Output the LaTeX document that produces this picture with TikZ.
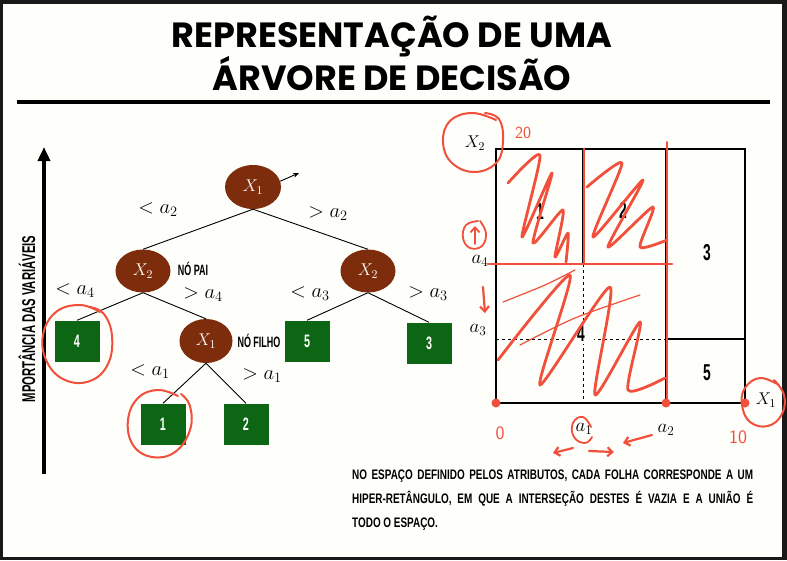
\RequirePackage{fix-cm}
\documentclass[tikz,border=0pt]{standalone}
\usepackage{fontspec}
\usetikzlibrary{shapes.geometric,arrows.meta}
\newfontfamily\titlefont{Poppins}
\newfontfamily\condfont[FakeStretch=0.6]{Liberation Sans}
\newfontfamily\condvert[FakeStretch=0.61]{Liberation Sans}
\newfontfamily\condnote[FakeStretch=0.72]{Liberation Sans}
\definecolor{bg}{RGB}{254,254,250}
\definecolor{framedark}{RGB}{25,25,25}
\definecolor{nodebrown}{RGB}{125,45,12}
\definecolor{leafgreen}{RGB}{12,102,20}
\definecolor{inkred}{RGB}{240,80,60}
\begin{document}
\begin{tikzpicture}[x=1pt,y=-1pt,
  dnode/.style={ellipse, fill=nodebrown, minimum width=56pt, minimum height=44pt, inner sep=0pt, text=white, font=\fontsize{17}{17}\selectfont},
  leaf/.style={rectangle, fill=leafgreen, minimum width=45pt, minimum height=41pt, inner sep=0pt, text=white, font=\condfont\bfseries\fontsize{18}{18}\selectfont},
  treeedge/.style={draw=black, line width=0.9pt},
  cond/.style={font=\fontsize{20.5}{20.5}\selectfont, inner sep=1pt},
  tag/.style={font=\condfont\bfseries\fontsize{15}{15}\selectfont, inner sep=1pt},
  region/.style={font=\condfont\bfseries\fontsize{23}{23}\selectfont, inner sep=1pt},
  axis/.style={font=\fontsize{19}{19}\selectfont, inner sep=1pt},
  axisX/.style={font=\fontsize{17}{17}\selectfont, inner sep=1pt},
  grid/.style={draw=black, line width=2.4pt},
  dgrid/.style={draw=black, line width=0.8pt, dash pattern=on 3pt off 3pt},
  ink/.style={draw=inkred, line width=2.8pt, line cap=round, line join=round},
  thinink/.style={draw=inkred, line width=1.2pt, line cap=round, line join=round},
  inktext/.style={text=inkred, font=\sffamily\fontsize{19}{19}\selectfont, inner sep=0pt},
  inkarrow/.style={draw=inkred, line width=2.2pt, line cap=round, -{Straight Barb[length=5pt,width=9pt]}},
]
\useasboundingbox (0,0) rectangle (787,560);
% frame and background
\fill[framedark] (0,0) rectangle (787,560);
\fill[bg] (3,4) rectangle (782,557);

% title
\node[font=\titlefont\bfseries\fontsize{35}{35}\selectfont, inner sep=0pt] (t1) at (392,37) {REPRESENTAÇÃO DE UMA};
\node[font=\titlefont\bfseries\fontsize{35}{35}\selectfont, inner sep=0pt] (t2) at (392,74) {ÁRVORE DE DECISÃO};
\coordinate (rl) at (17,102);
\coordinate (rr) at (770,102);
\draw[line width=4pt] (rl) -- (rr);

% importance axis
\coordinate (ab) at (44,474);
\coordinate (at) at (44,147);
\draw[line width=3.5pt, -{Triangle[width=12pt,length=14pt]}] (ab) -- (at);
\node[rotate=90, font=\condvert\bfseries\fontsize{18.5}{18.5}\selectfont, inner sep=0pt] (imp) at (27,319) {MPORTÂNCIA DAS VARIÁVEIS};

% tree nodes
\node[dnode] (root) at (253,187) {$X_1$};
\node[dnode, minimum width=55pt, minimum height=43pt] (x2l) at (143,271) {$X_2$};
\node[dnode, minimum width=55pt, minimum height=43pt] (x2r) at (368,271) {$X_2$};
\node[dnode, minimum width=53pt, minimum height=44pt] (x1c) at (206,341) {$X_1$};
\node[leaf] (l4) at (77,341) {4};
\node[leaf] (l5) at (307,341) {5};
\node[leaf] (l3) at (429,343) {3};
\node[leaf] (l1) at (163,424) {1};
\node[leaf] (l2) at (246,424) {2};

% tree edges
\draw[treeedge] (root.south) -- (x2l.north);
\draw[treeedge] (root.south) -- (x2r.north);
\draw[treeedge] (x2l.south) -- (l4.north);
\draw[treeedge] (x2l.south) -- (x1c.north);
\draw[treeedge] (x2r.south) -- (l5.north);
\draw[treeedge] (x2r.south) -- (l3.north);
\draw[treeedge] (x1c.south) -- (l1.north);
\draw[treeedge] (x1c.south) -- (l2.north);
\coordinate (rootarrow) at (299,173);
\draw[line width=0.9pt, -{Stealth[length=6pt,width=5pt]}] (root.12) -- (rootarrow);

% edge labels
\node[cond] (c1) at (158,210) {$<a_2$};
\node[cond] (c2) at (328,214) {$>a_2$};
\node[cond] (c3) at (75,291) {$<a_4$};
\node[cond] (c4) at (203,295) {$>a_4$};
\node[cond] (c5) at (310,294) {$<a_3$};
\node[cond] (c6) at (428,294) {$>a_3$};
\node[cond] (c7) at (150,372) {$<a_1$};
\node[cond] (c8) at (262,376) {$>a_1$};
\node[tag] (pai) at (193,269) {NÓ PAI};
\node[tag] (filho) at (259,341) {NÓ FILHO};

% partition of the feature space
\draw[dgrid] (583,264) -- (583,403);
\draw[dgrid] (496,339) -- (666,339);
\node[region, fill=bg, inner xsep=9pt, inner ysep=2pt] (r4) at (581,334) {4};
\draw[grid] (496,149) rectangle (745,403);
\draw[grid] (583,149) -- (583,264);
\draw[grid] (496,264) -- (666,264);
\draw[grid] (666,149) -- (666,403);
\draw[grid] (666,339) -- (745,339);
\node[region] (r1) at (540,212) {1};
\node[region] (r2) at (623,210) {2};
\node[region] (r3) at (707,253) {3};
\node[region] (r5) at (707,373) {5};
\node[axisX] (ax2) at (475,143) {$X_2$};
\node[axis] (aa4) at (480,261) {$a_4$};
\node[axis] (aa3) at (478,330) {$a_3$};
\node[axis] (aa1) at (584,429) {$a_1$};
\node[axis] (aa2) at (666,430) {$a_2$};
\node[axisX] (ax1) at (766,400) {$X_1$};

% note
\node[anchor=north west, inner sep=0pt, text width=401pt, align=justify,
      font=\condnote\bfseries\fontsize{13.8}{24}\selectfont] (note) at (352,470)
 {NO ESPAÇO DEFINIDO PELOS ATRIBUTOS, CADA FOLHA CORRESPONDE A UM\linebreak
  HIPER-RETÂNGULO, EM QUE A INTERSEÇÃO DESTES É VAZIA E A UNIÃO É\linebreak
  TODO O ESPAÇO.};

% ---- red hand annotations ----
% circles around leaves
\draw[ink, line width=2pt] plot[smooth, tension=0.7] coordinates {(100,312) (80,305) (56,312) (43,335) (47,362) (65,380) (90,381) (108,364) (112,336) (104,314) (90,307)};
\draw[ink, line width=2pt] plot[smooth, tension=0.7] coordinates {(178,396) (158,390) (138,398) (128,420) (133,445) (152,457) (175,452) (190,430) (190,406) (181,394)};
% circles around axis labels
\draw[ink, line width=2pt] plot[smooth, tension=0.7] coordinates {(496,120) (472,113) (450,121) (443,142) (452,163) (475,172) (497,162) (503,140) (499,119) (485,113)};
\draw[ink, line width=2pt] plot[smooth, tension=0.7] coordinates {(779,385) (760,378) (745,388) (742,405) (750,422) (768,426) (782,414) (784,395) (774,380)};
\draw[ink, line width=1.8pt] plot[smooth, tension=0.8] coordinates {(591,427) (583,417) (573,423) (574,437) (585,443) (592,437)};
% handwritten numbers
\node[inktext, font=\sffamily\fontsize{17}{17}\selectfont] (n20) at (523,133) {20};
\node[inktext] (n0) at (500,433) {0};
\node[inktext] (n10) at (738,437) {10};
% up arrow in a circle, down arrow
\draw[ink, line width=1.8pt] plot[smooth, tension=0.7] coordinates {(478,221) (466,225) (463,238) (470,248) (482,246) (486,233) (480,221)};
\coordinate (ua1) at (475,244);
\coordinate (ua2) at (475,226);
\draw[inkarrow, line width=1.8pt] (ua1) -- (ua2);
\coordinate (da1) at (483,287);
\coordinate (da2) at (485,313);
\draw[inkarrow] (da1) -- (da2);
% arrows below a1
\coordinate (b1s) at (573,448); \coordinate (b1e) at (553,453);
\coordinate (b2s) at (589,451); \coordinate (b2e) at (614,452);
\coordinate (b3s) at (652,435); \coordinate (b3e) at (623,443);
\draw[inkarrow] (b1s) -- (b1e);
\draw[inkarrow] (b2s) -- (b2e);
\draw[inkarrow] (b3s) -- (b3e);
% dots on X1 axis
\fill[inkred] (496,403) circle (4.5pt);
\fill[inkred] (666,403) circle (4.5pt);
\fill[inkred] (745,403) circle (4.5pt);
% lines over the split boundaries
\draw[ink] (488,264) -- (672,264);
\draw[ink] (584,149) -- (584,264);
\draw[ink, line width=2pt] (667,142) -- (667,400);
% scribbles region 1
\draw[ink] plot[smooth, tension=0.4] coordinates {(508,183) (540,155) (522,237) (552,173) (533,243) (563,210) (555,257) (568,233) (566,262)};
% scribbles region 2
\draw[ink] plot[smooth, tension=0.4] coordinates {(587,187) (622,163) (593,237) (643,180) (608,247) (653,207) (640,247) (667,240)};
% scribbles region 4
\draw[ink] plot[smooth, tension=0.4] coordinates {(498,360) (570,275) (540,385) (610,287) (595,395) (640,322) (628,390) (665,378)};
\draw[thinink] plot[smooth, tension=0.5] coordinates {(503,302) (545,285) (575,270)};
\draw[thinink] plot[smooth, tension=0.5] coordinates {(520,345) (575,318) (640,295)};
\end{tikzpicture}
\end{document}
